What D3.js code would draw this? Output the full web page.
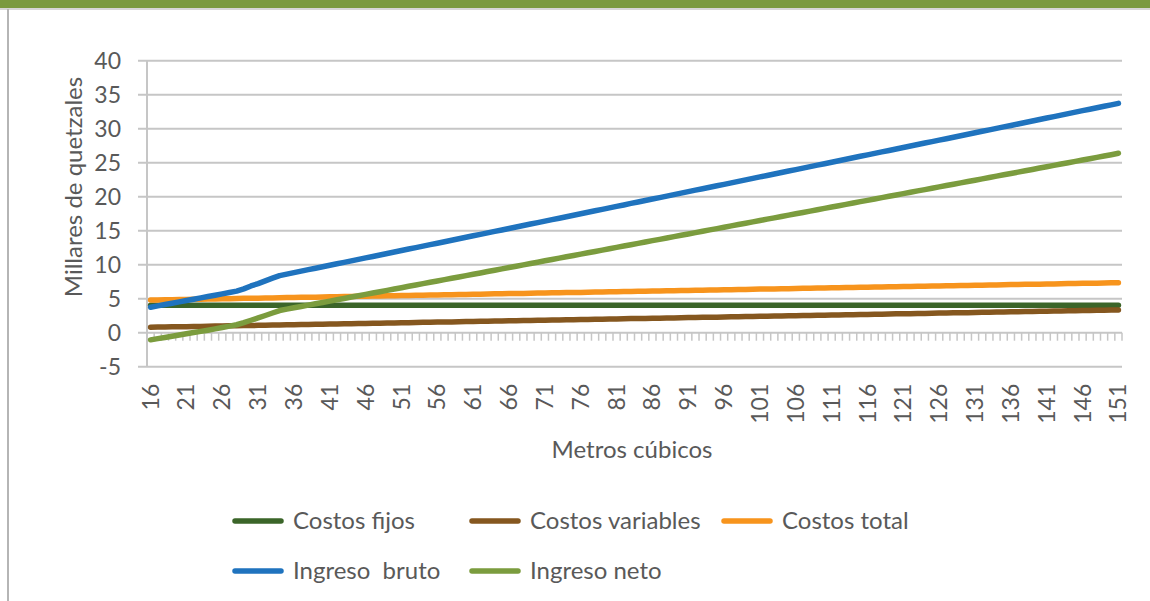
<!DOCTYPE html>
<html>
<head>
<meta charset="utf-8">
<script src="https://cdn.jsdelivr.net/npm/d3@7"></script>
<style>
  body { margin: 0; background: #fff; }
  svg { display: block; font-family: Lato, "Open Sans", sans-serif; }
</style>
</head>
<body>
<svg id="chart" width="1150" height="601"></svg>
<script>
// metros cubicos 16..151
const categories = [
  16,17,18,19,20,21,22,23,24,25,26,27,28,29,30,31,32,33,34,35,
  36,37,38,39,40,41,42,43,44,45,46,47,48,49,50,51,52,53,54,55,
  56,57,58,59,60,61,62,63,64,65,66,67,68,69,70,71,72,73,74,75,
  76,77,78,79,80,81,82,83,84,85,86,87,88,89,90,91,92,93,94,95,
  96,97,98,99,100,101,102,103,104,105,106,107,108,109,110,111,112,113,114,115,
  116,117,118,119,120,121,122,123,124,125,126,127,128,129,130,131,132,133,134,135,
  136,137,138,139,140,141,142,143,144,145,146,147,148,149,150,151
];

const costosFijos = [
  4.05,4.05,4.05,4.05,4.05,4.05,4.05,4.05,4.05,4.05,4.05,4.05,4.05,4.05,4.05,4.05,4.05,4.05,4.05,4.05,
  4.05,4.05,4.05,4.05,4.05,4.05,4.05,4.05,4.05,4.05,4.05,4.05,4.05,4.05,4.05,4.05,4.05,4.05,4.05,4.05,
  4.05,4.05,4.05,4.05,4.05,4.05,4.05,4.05,4.05,4.05,4.05,4.05,4.05,4.05,4.05,4.05,4.05,4.05,4.05,4.05,
  4.05,4.05,4.05,4.05,4.05,4.05,4.05,4.05,4.05,4.05,4.05,4.05,4.05,4.05,4.05,4.05,4.05,4.05,4.05,4.05,
  4.05,4.05,4.05,4.05,4.05,4.05,4.05,4.05,4.05,4.05,4.05,4.05,4.05,4.05,4.05,4.05,4.05,4.05,4.05,4.05,
  4.05,4.05,4.05,4.05,4.05,4.05,4.05,4.05,4.05,4.05,4.05,4.05,4.05,4.05,4.05,4.05,4.05,4.05,4.05,4.05,
  4.05,4.05,4.05,4.05,4.05,4.05,4.05,4.05,4.05,4.05,4.05,4.05,4.05,4.05,4.05,4.05
];

const costosVariables = [
  0.80,0.82,0.84,0.86,0.88,0.89,0.91,0.93,0.95,0.97,
  0.99,1.01,1.03,1.05,1.06,1.08,1.10,1.12,1.14,1.16,
  1.18,1.20,1.22,1.23,1.25,1.27,1.29,1.31,1.33,1.35,
  1.37,1.39,1.40,1.42,1.44,1.46,1.48,1.50,1.52,1.54,
  1.56,1.57,1.59,1.61,1.63,1.65,1.67,1.69,1.71,1.73,
  1.75,1.76,1.78,1.80,1.82,1.84,1.86,1.88,1.90,1.92,
  1.93,1.95,1.97,1.99,2.01,2.03,2.05,2.07,2.09,2.10,
  2.12,2.14,2.16,2.18,2.20,2.22,2.24,2.26,2.27,2.29,
  2.31,2.33,2.35,2.37,2.39,2.41,2.43,2.44,2.46,2.48,
  2.50,2.52,2.54,2.56,2.58,2.60,2.61,2.63,2.65,2.67,
  2.69,2.71,2.73,2.75,2.77,2.78,2.80,2.82,2.84,2.86,
  2.88,2.90,2.92,2.94,2.95,2.97,2.99,3.01,3.03,3.05,
  3.07,3.09,3.11,3.12,3.14,3.16,3.18,3.20,3.22,3.24,
  3.26,3.28,3.29,3.31,3.33,3.35
];

const costosTotal = [
  4.80,4.82,4.84,4.86,4.88,4.89,4.91,4.93,4.95,4.97,
  4.99,5.01,5.03,5.05,5.06,5.08,5.10,5.12,5.14,5.16,
  5.18,5.20,5.22,5.23,5.25,5.27,5.29,5.31,5.33,5.35,
  5.37,5.39,5.40,5.42,5.44,5.46,5.48,5.50,5.52,5.54,
  5.56,5.57,5.59,5.61,5.63,5.65,5.67,5.69,5.71,5.73,
  5.75,5.76,5.78,5.80,5.82,5.84,5.86,5.88,5.90,5.92,
  5.93,5.95,5.97,5.99,6.01,6.03,6.05,6.07,6.09,6.10,
  6.12,6.14,6.16,6.18,6.20,6.22,6.24,6.26,6.27,6.29,
  6.31,6.33,6.35,6.37,6.39,6.41,6.43,6.44,6.46,6.48,
  6.50,6.52,6.54,6.56,6.58,6.60,6.61,6.63,6.65,6.67,
  6.69,6.71,6.73,6.75,6.77,6.78,6.80,6.82,6.84,6.86,
  6.88,6.90,6.92,6.94,6.95,6.97,6.99,7.01,7.03,7.05,
  7.07,7.09,7.11,7.12,7.14,7.16,7.18,7.20,7.22,7.24,
  7.26,7.28,7.29,7.31,7.33,7.35
];

const ingresoBruto = [
  3.75,3.95,4.14,4.34,4.53,4.73,4.93,5.12,5.32,5.51,
  5.71,5.91,6.12,6.45,6.87,7.22,7.63,8.02,8.40,8.62,
  8.83,9.05,9.27,9.48,9.70,9.92,10.13,10.35,10.57,10.78,
  11.00,11.21,11.43,11.65,11.86,12.08,12.30,12.51,12.73,12.95,
  13.16,13.38,13.60,13.81,14.03,14.25,14.46,14.68,14.90,15.11,
  15.33,15.54,15.76,15.98,16.19,16.41,16.63,16.84,17.06,17.28,
  17.49,17.71,17.93,18.14,18.36,18.58,18.79,19.01,19.23,19.44,
  19.66,19.87,20.09,20.31,20.52,20.74,20.96,21.17,21.39,21.61,
  21.82,22.04,22.26,22.47,22.69,22.91,23.12,23.34,23.56,23.77,
  23.99,24.20,24.42,24.64,24.85,25.07,25.29,25.50,25.72,25.94,
  26.15,26.37,26.59,26.80,27.02,27.24,27.45,27.67,27.89,28.10,
  28.32,28.53,28.75,28.97,29.18,29.40,29.62,29.83,30.05,30.27,
  30.48,30.70,30.92,31.13,31.35,31.57,31.78,32.00,32.22,32.43,
  32.65,32.86,33.08,33.30,33.51,33.73
];

const ingresoNeto = [
  -1.05,-0.87,-0.70,-0.52,-0.35,-0.16,0.02,0.19,0.37,0.56,
  0.76,0.96,1.17,1.48,1.83,2.17,2.53,2.90,3.26,3.46,
  3.66,3.85,4.05,4.25,4.45,4.64,4.84,5.04,5.24,5.43,
  5.63,5.83,6.03,6.22,6.42,6.62,6.82,7.01,7.21,7.41,
  7.61,7.80,8.00,8.20,8.40,8.60,8.79,8.99,9.19,9.39,
  9.58,9.78,9.98,10.18,10.37,10.57,10.77,10.97,11.16,11.36,
  11.56,11.76,11.95,12.15,12.35,12.55,12.74,12.94,13.14,13.34,
  13.54,13.73,13.93,14.13,14.33,14.52,14.72,14.92,15.12,15.31,
  15.51,15.71,15.91,16.10,16.30,16.50,16.70,16.89,17.09,17.29,
  17.49,17.68,17.88,18.08,18.28,18.48,18.67,18.87,19.07,19.27,
  19.46,19.66,19.86,20.06,20.25,20.45,20.65,20.85,21.04,21.24,
  21.44,21.64,21.83,22.03,22.23,22.43,22.62,22.82,23.02,23.22,
  23.42,23.61,23.81,24.01,24.21,24.40,24.60,24.80,25.00,25.19,
  25.39,25.59,25.79,25.98,26.18,26.38
];

const yTicks = [-5, 0, 5, 10, 15, 20, 25, 30, 35, 40];
const xTickLabels = [16,21,26,31,36,41,46,51,56,61,66,71,76,81,86,91,96,101,106,111,116,121,126,131,136,141,146,151];

const series = [
  { name: 'Costos fijos', values: costosFijos, color: '#3b6529' },
  { name: 'Costos variables', values: costosVariables, color: '#85571f' },
  { name: 'Costos total', values: costosTotal, color: '#f7941d' },
  { name: 'Ingreso  bruto', values: ingresoBruto, color: '#1f73be' },
  { name: 'Ingreso neto', values: ingresoNeto, color: '#7b9c3e' }
];

const svg = d3.select('#chart');
const textColor = '#595959';
const gridColor = '#c6c6c6';

// frame: green band on top, grey rule below it, grey left border
svg.append('rect').attr('x', 0).attr('y', 0).attr('width', 1150).attr('height', 8).attr('fill', '#7a9a3f');
svg.append('line').attr('x1', 0).attr('x2', 1150).attr('y1', 9).attr('y2', 9)
  .attr('stroke', '#c8c8c8').attr('stroke-width', 1.5);
svg.append('line').attr('x1', 8).attr('x2', 8).attr('y1', 9).attr('y2', 601)
  .attr('stroke', '#b5b5b5').attr('stroke-width', 2);

const plotLeft = 147, plotRight = 1122, plotTop = 60.7, plotBottom = 366.7;

const x = d3.scaleBand().domain(categories).range([plotLeft, plotRight]).padding(0);
const y = d3.scaleLinear().domain([-5, 40]).range([plotBottom, plotTop]);
const cx = d => x(d) + x.bandwidth() / 2;

// gridlines (stick out left of the axis like tick marks)
svg.append('g').selectAll('line').data(yTicks).join('line')
  .attr('x1', plotLeft - 9).attr('x2', plotRight)
  .attr('y1', d => y(d)).attr('y2', d => y(d))
  .attr('stroke', gridColor).attr('stroke-width', 2);

// vertical axis line
svg.append('line').attr('x1', plotLeft).attr('x2', plotLeft).attr('y1', plotTop).attr('y2', plotBottom)
  .attr('stroke', gridColor).attr('stroke-width', 2);

// category ticks hanging off the zero line
const boundaries = d3.range(categories.length + 1).map(i => plotLeft + i * x.step());
svg.append('g').selectAll('line').data(boundaries).join('line')
  .attr('x1', d => d).attr('x2', d => d)
  .attr('y1', y(0)).attr('y2', y(0) + 8)
  .attr('stroke', gridColor).attr('stroke-width', 1.5);

// y axis labels
const yAxis = svg.append('g')
  .attr('transform', `translate(${plotLeft},0)`)
  .call(d3.axisLeft(y).tickValues(yTicks).tickSize(0).tickPadding(26).tickFormat(d => String(d)));
yAxis.select('.domain').remove();
yAxis.selectAll('text').attr('fill', textColor).style('font-size', '23px').style('font-family', 'Lato, sans-serif');

// x axis labels, rotated
const xAxis = svg.append('g')
  .attr('transform', `translate(0,${plotBottom})`)
  .call(d3.axisBottom(x).tickValues(xTickLabels).tickSize(0));
xAxis.select('.domain').remove();
xAxis.selectAll('text')
  .attr('transform', 'rotate(-90)')
  .attr('x', -17).attr('y', 0).attr('dy', '0.35em')
  .attr('text-anchor', 'end')
  .attr('fill', textColor)
  .style('font-size', '23px').style('font-family', 'Lato, sans-serif');

// axis titles
svg.append('text')
  .attr('transform', 'translate(82,187) rotate(-90)')
  .attr('text-anchor', 'middle')
  .attr('fill', textColor).style('font-size', '24px')
  .text('Millares de quetzales');

svg.append('text')
  .attr('x', 632).attr('y', 458)
  .attr('text-anchor', 'middle')
  .attr('fill', textColor).style('font-size', '24px')
  .text('Metros cúbicos');

// lines
const line = d3.line()
  .x((d, i) => cx(categories[i]))
  .y(d => y(d));

series.forEach(s => {
  svg.append('path')
    .datum(s.values)
    .attr('d', line)
    .attr('fill', 'none')
    .attr('stroke', s.color)
    .attr('stroke-width', 5.5)
    .attr('stroke-linecap', 'round')
    .attr('stroke-linejoin', 'round');
});

// legend
const legendPos = [
  { x: 233, y: 521 }, { x: 470, y: 521 }, { x: 722, y: 521 },
  { x: 233, y: 571 }, { x: 470, y: 571 }
];
const legend = svg.append('g');
series.forEach((s, i) => {
  const p = legendPos[i];
  const g = legend.append('g').attr('transform', `translate(${p.x},${p.y})`);
  g.append('line').attr('x1', 2).attr('x2', 48).attr('y1', 0).attr('y2', 0)
    .attr('stroke', s.color).attr('stroke-width', 5.5).attr('stroke-linecap', 'round');
  g.append('text').attr('x', 60).attr('y', 0).attr('dy', '0.35em')
    .attr('fill', textColor).style('font-size', '24px').style('white-space', 'pre')
    .text(s.name);
});
</script>
</body>
</html>
